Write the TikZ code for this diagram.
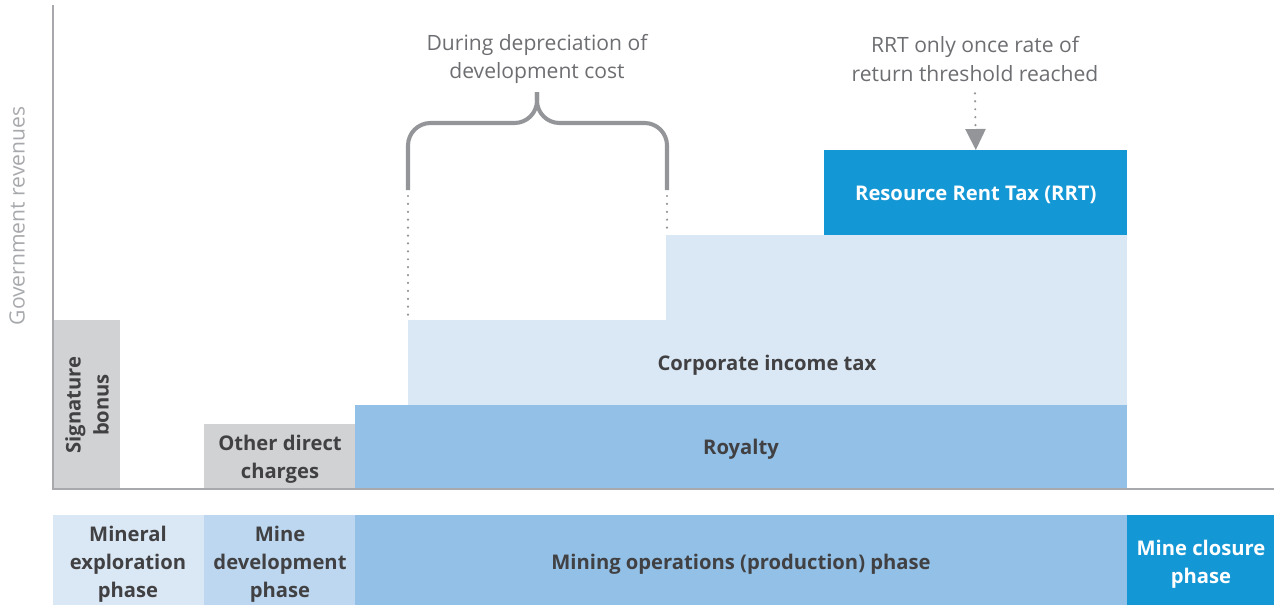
\documentclass[tikz,border=0pt]{standalone}
\usepackage{fontspec}
\setmainfont{Open Sans}
\usetikzlibrary{arrows.meta}

\definecolor{barGray}{HTML}{D1D2D4}
\definecolor{paleBlue}{HTML}{DAE8F5}
\definecolor{midBlue}{HTML}{BCD7EF}
\definecolor{royalBlue}{HTML}{93C0E6}
\definecolor{deepBlue}{HTML}{1497D5}
\definecolor{textDark}{HTML}{414042}
\definecolor{noteGray}{HTML}{6D6E71}
\definecolor{braceGray}{HTML}{939598}
\definecolor{axisGray}{HTML}{A7A9AC}

\begin{document}
\begin{tikzpicture}[
    x=0.02cm, y=-0.02cm, % one unit per pixel, y grows downwards
    bar text/.style={
        font=\bfseries\fontsize{11.5}{16}\selectfont, % bold labels in the bars
        text=textDark,
        align=center
    },
    note text/.style={
        font=\fontsize{12}{16}\selectfont, % light notes above
        text=noteGray,
        align=center
    },
    dots/.style={draw=braceGray, line width=1.4pt, line cap=round, dash pattern=on 0pt off 4.5pt}
]
\useasboundingbox (0,0) rectangle (1274,605);

% revenue bars
\fill[barGray] (53,320) rectangle (120,489);
\fill[barGray] (204,424) rectangle (355,489);
\fill[royalBlue] (355,405) rectangle (1127,489);
\fill[paleBlue] (408,320) rectangle (666,405);
\fill[paleBlue] (666,235) rectangle (1127,405);
\node[fill=deepBlue, minimum width=6.06cm, minimum height=1.7cm, anchor=north west,
      inner sep=0pt] (rrtbox) at (824,150) {};

% axes
\draw[axisGray, line width=1.1pt] (53,5) |- (1274,489);
\node[note text, text=axisGray, rotate=90] (yaxis) at (17,216) {Government revenues};

% bar labels
\node[bar text, rotate=90] (bonus) at (87,405) {Signature\\bonus};
\node[bar text] (other) at (280,459) {Other direct\\charges};
\node[bar text] (royalty) at (741,449) {Royalty};
\node[bar text] (cit) at (767,365) {Corporate income tax};
\node[bar text, text=white] (rrt) at ([yshift=-0.04cm]rrtbox.center) {Resource Rent Tax (RRT)};

% phases along the bottom
\fill[paleBlue] (53,515) rectangle (204,605);
\fill[midBlue] (204,515) rectangle (355,605);
\fill[royalBlue] (355,515) rectangle (1127,605);
\fill[deepBlue] (1127,515) rectangle (1274,605);
\node[bar text] (explore) at (128,564) {Mineral\\exploration\\phase};
\node[bar text] (develop) at (280,564) {Mine\\development\\phase};
\node[bar text] (operate) at (741,564) {Mining operations (production) phase};
\node[bar text, text=white] (closure) at (1201,564) {Mine closure\\phase};

% notes
\node[note text] (depnote) at (537,59) {During depreciation of\\development cost};
\node[note text] (rrtnote) at (975,59) {RRT only once rate of\\return threshold reached};

% brace over the depreciation years
\draw[braceGray, line width=2.3pt, rounded corners=0.45cm] (408,190) |- (537,123) -- (537,92);
\draw[braceGray, line width=2.3pt, rounded corners=0.45cm] (667,190) |- (537,123) -- (537,92);
\draw[dots] (408,196) -- (408,320);
\draw[dots] (667,196) -- (667,235);

% arrow onto the RRT bar
\draw[dots, -{Triangle[width=0.4cm, length=0.42cm]}] (rrtnote.south) ++(0,6) -- (rrtbox.north);
\end{tikzpicture}
\end{document}
